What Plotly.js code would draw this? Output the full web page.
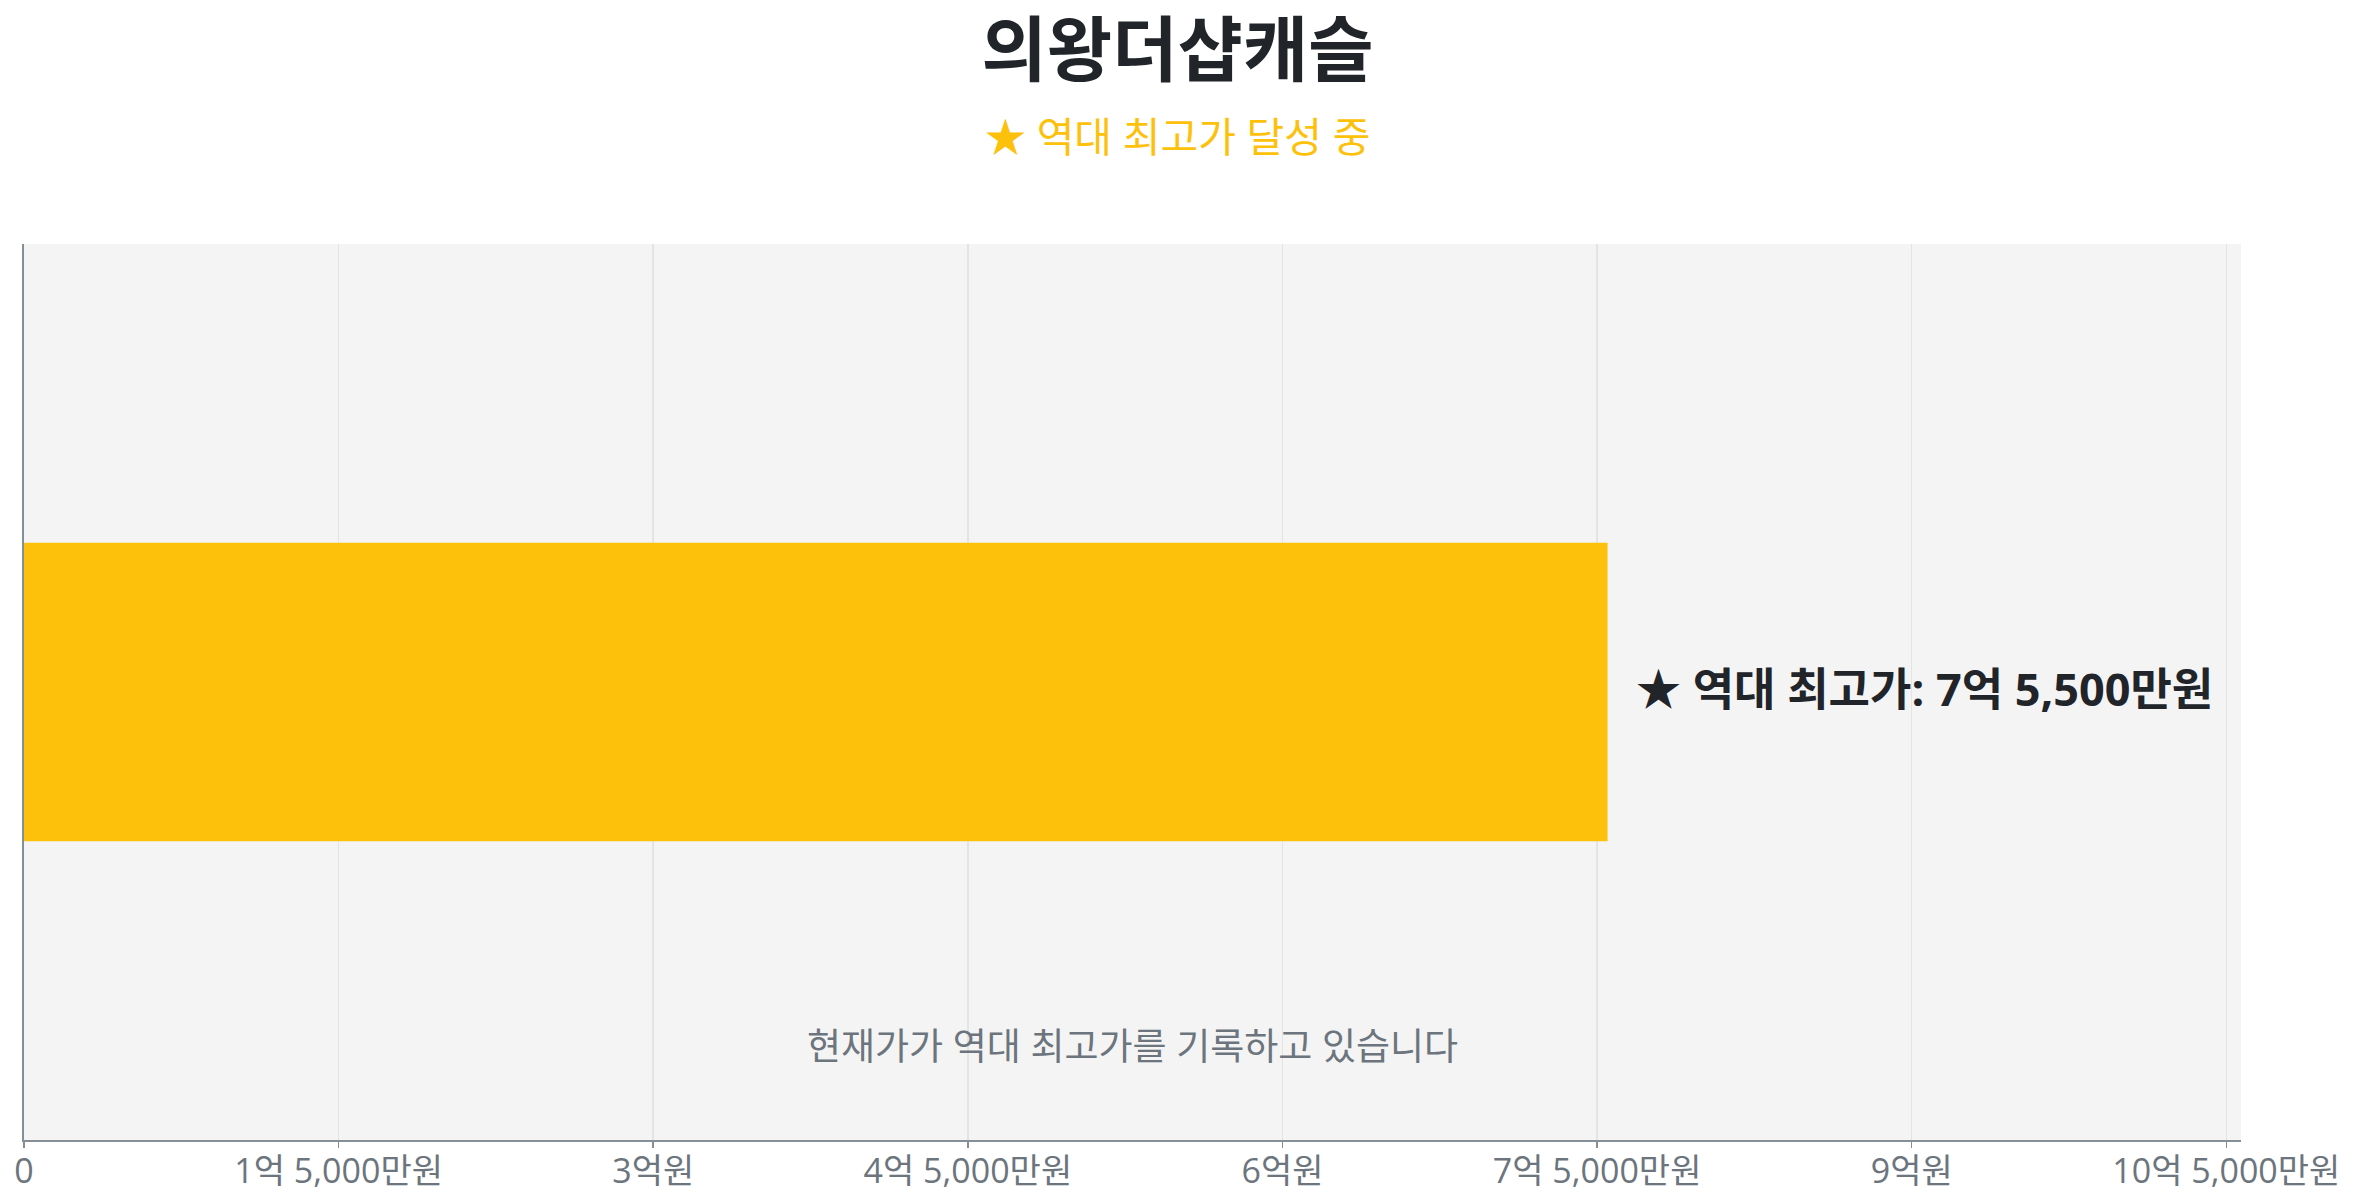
<!DOCTYPE html>
<html>
<head>
<meta charset="utf-8">
<script src="https://cdn.plot.ly/plotly-3.0.1.min.js"></script>
<style>
  html, body { margin: 0; padding: 0; background: #ffffff; }
  #plot { width: 2355px; height: 1200px; }
</style>
</head>
<body>
<div id="plot"></div>
<script>
// apartment + record price
const names = ["의왕더샵캐슬"];
const values = [755000000];
const barLabels = ["★ 역대 최고가: 7억 5,500만원"];

const tickVals = [0, 150000000, 300000000, 450000000, 600000000, 750000000, 900000000, 1050000000];
const tickText = ["0", "1억 5,000만원", "3억원", "4억 5,000만원", "6억원", "7억 5,000만원", "9억원", "10억 5,000만원"];

const titleText = "의왕더샵캐슬";
const subtitleText = "★ 역대 최고가 달성 중";
const noteText = "현재가가 역대 최고가를 기록하고 있습니다";

const FONT = "Open Sans, 'Noto Sans CJK KR', sans-serif";

const W = 2355, H = 1200;
const M = { l: 24, r: 114, t: 244, b: 60 };
// subtitle is centred on the whole figure, not the plot area
const figCenter = (W / 2 - M.l) / (W - M.l - M.r);

const trace = {
  type: "bar",
  orientation: "h",
  x: values,
  y: [0],
  width: 1,
  name: names[0],
  marker: { color: "#fdc10b" },
  hoverinfo: "skip",
  showlegend: false,
};

const layout = {
  width: W,
  height: H,
  margin: M,
  paper_bgcolor: "#ffffff",
  plot_bgcolor: "#f4f4f4",
  font: { family: FONT, color: "#6c757d" },
  title: {
    text: titleText,
    x: 0.5,
    xanchor: "center",
    y: 0.958,
    yanchor: "middle",
    font: { family: FONT, size: 71, color: "#212529", weight: "bold" },
  },
  xaxis: {
    range: [0, values[0] * 1.4],
    tickvals: tickVals,
    ticktext: tickText,
    tickfont: { size: 34, color: "#6c757d" },
    ticks: "outside",
    ticklen: 6,
    tickwidth: 1.5,
    tickcolor: "#868e96",
    ticklabelstandoff: -6,
    showline: true,
    linecolor: "#868e96",
    linewidth: 2,
    showgrid: true,
    gridcolor: "#e4e4e4",
    gridwidth: 1.5,
    zeroline: false,
    fixedrange: true,
  },
  yaxis: {
    range: [-1.5, 1.5],
    showticklabels: false,
    ticks: "",
    showgrid: false,
    zeroline: false,
    showline: true,
    linecolor: "#868e96",
    linewidth: 2,
    fixedrange: true,
  },
  annotations: [
    {
      text: subtitleText,
      xref: "paper",
      yref: "paper",
      x: figCenter,
      y: 1.12,
      xanchor: "center",
      yanchor: "middle",
      showarrow: false,
      font: { family: FONT, size: 41, color: "#fdc10b" },
    },
    {
      text: "<b>" + barLabels[0] + "</b>",
      x: values[0],
      y: 0,
      xref: "x",
      yref: "y",
      xanchor: "left",
      yanchor: "middle",
      xshift: 26,
      yshift: 4,
      showarrow: false,
      font: { family: FONT, size: 45, color: "#212529" },
    },
    {
      text: noteText,
      xref: "paper",
      yref: "paper",
      x: 0.5,
      y: 0.105,
      xanchor: "center",
      yanchor: "middle",
      showarrow: false,
      font: { family: FONT, size: 37, color: "#6c757d" },
    },
  ],
};

Plotly.newPlot(document.querySelector("#plot"), [trace], layout, {
  displayModeBar: false,
  staticPlot: true,
});
</script>
</body>
</html>
